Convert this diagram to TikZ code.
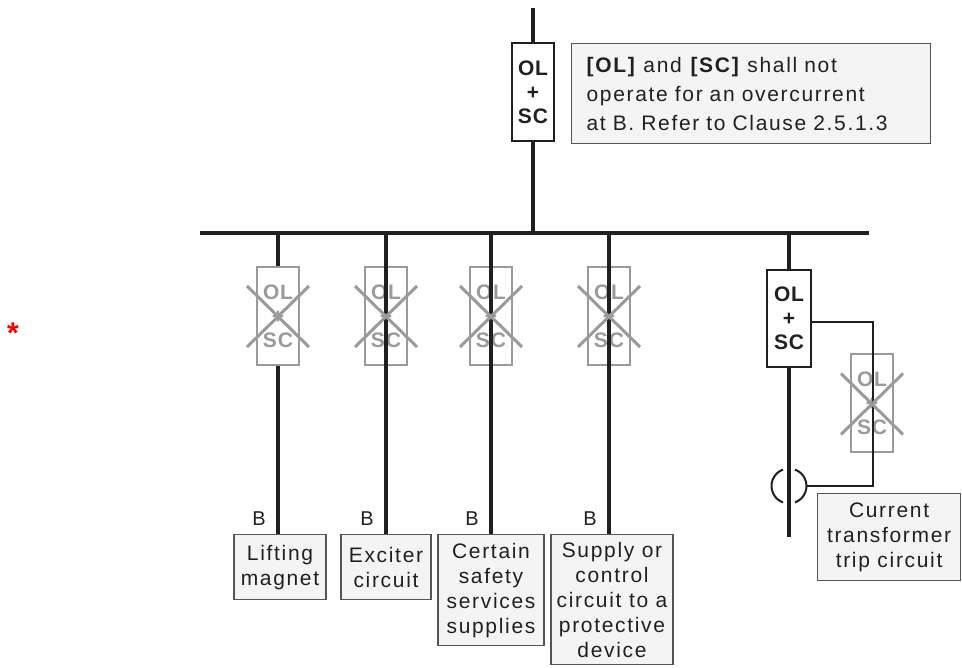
\documentclass[tikz,border=0pt]{standalone}
\usepackage{fontspec}
\setmainfont{Liberation Sans}
\newfontfamily\spacedfont[LetterSpace=8]{Liberation Sans}
\newfontfamily\widefont[LetterSpace=4]{Liberation Sans}
\usetikzlibrary{positioning}

\definecolor{ink}{HTML}{231F20}
\definecolor{deadgray}{HTML}{9A9A9A}
\definecolor{boxline}{HTML}{555555}
\definecolor{boxfill}{HTML}{F4F4F4}

\tikzset{
  wire/.style={draw=ink, line width=3.2pt},
  tripwire/.style={draw=ink, line width=2pt},
  protbox/.style={draw=ink, line width=2pt, fill=white, minimum width=42pt, minimum height=98pt,
    inner sep=0pt, align=center, text=ink, font=\widefont\fontsize{21}{24}\selectfont\bfseries},
  deadbox/.style={protbox, draw=deadgray, text=deadgray, fill=none},
  deadcross/.style={draw=deadgray, line width=3pt},
  loadbox/.style={draw=boxline, fill=boxfill, line width=1.2pt, anchor=north, align=center,
    inner sep=0pt, text=ink, font=\spacedfont\fontsize{21}{25}\selectfont},
  blabel/.style={text=ink, font=\spacedfont\fontsize{20}{23}\selectfont}
}

\newcommand\crossout[1]{\draw[deadcross] (#1.center) ++(-31,-30) -- ++(62,61)
  (#1.center) ++(-31,31) -- ++(62,-61);}

\begin{document}
\begin{tikzpicture}[x=1pt,y=-1pt]

\def\busY{233}
\def\busL{200}
\def\busR{869}
\def\deadY{316}
\def\loadY{534}
\def\rightX{789}

\useasboundingbox (0,0) rectangle (962,668);

% incoming supply
\coordinate (feed) at (533,8);
\node[protbox] (mainprot) at (533,92.5) {OL\\+\\SC};
\node[draw=boxline, fill=boxfill, line width=1.2pt, anchor=north west, minimum height=100pt,
  text width=329pt, inner xsep=15pt, align=left, text=ink,
  font=\spacedfont\fontsize{21}{29}\selectfont] (note) at (571,43)
  {\textbf{[OL]} and \textbf{[SC]} shall not\\operate for an overcurrent\\at B. Refer to Clause 2.5.1.3};

% busbar
\coordinate (busleft) at (\busL,\busY);
\coordinate (busright) at (\busR,\busY);
\coordinate (busfeed) at (533,\busY);
\draw[wire] (feed) -- (mainprot.north);
\draw[wire] (mainprot.south) -- (busfeed);
\draw[wire, line width=3.6pt] (busleft) -- (busright);

% loads
\node[loadbox, minimum width=92pt, minimum height=65pt] (lift) at (280,\loadY) {Lifting\\magnet};
\node[loadbox, minimum width=90pt, minimum height=65pt] (exciter) at (386,\loadY) {Exciter\\circuit};
\node[loadbox, minimum width=106pt, minimum height=111pt] (safety) at (491,\loadY) {Certain\\safety\\services\\supplies};
\node[loadbox, minimum width=122pt, minimum height=130pt] (supply) at (612,\loadY) {Supply or\\control\\circuit to a\\protective\\device};

% branches, protection not wanted
\foreach \x/\name in {278/lift,386/exciter,491/safety,609/supply}{
  \coordinate (tap-\name) at (\x,\busY);
  \draw[wire] (tap-\name) -- (tap-\name |- \name.north);
  \node[blabel] (b-\name) at (\x-19,519) {B};
}
\node[deadbox, fill=white] (dead-lift) at (278,\deadY) {OL\\+\\SC};
\node[deadbox] (dead-exciter) at (386,\deadY) {OL\\+\\SC};
\node[deadbox] (dead-safety) at (491,\deadY) {OL\\+\\SC};
\node[deadbox] (dead-supply) at (609,\deadY) {OL\\+\\SC};
\draw[wire] (dead-exciter.north) -- (dead-exciter.south);
\draw[wire] (dead-safety.north) -- (dead-safety.south);
\draw[wire] (dead-supply.north) -- (dead-supply.south);
\crossout{dead-lift}
\crossout{dead-exciter}
\crossout{dead-safety}
\crossout{dead-supply}

% current transformer branch
\coordinate (tap-ct) at (\rightX,\busY);
\coordinate (ctend) at (\rightX,537);
\coordinate (ct) at (\rightX,486);
\node[protbox, minimum width=44pt, minimum height=97pt] (ctprot) at (\rightX,318.5) {OL\\+\\SC};
\draw[wire] (tap-ct) -- (ctprot.north);
\draw[wire] (ctprot.south) -- (ctend);
\draw[tripwire] (ct) ++(110:17.5) arc (110:250:17.5);
\draw[tripwire] (ct) ++(-70:17.5) arc (-70:70:17.5);
\coordinate (ctout) at (807,486);
\coordinate (tripcorner) at (873,322);
\node[deadbox] (dead-trip) at (872,403.5) {OL\\+\\SC};
\draw[tripwire] (ctprot.east |- tripcorner) -- (tripcorner) -- (tripcorner |- ctout) -- (ctout);
\crossout{dead-trip}
\node[loadbox, anchor=north west, minimum width=143pt, minimum height=87pt] (ctload) at (817,493)
  {Current\\transformer\\trip circuit};

% marker
\node[text=red, font=\fontsize{30}{30}\selectfont\bfseries] (star) at (13,333) {*};

\end{tikzpicture}
\end{document}
